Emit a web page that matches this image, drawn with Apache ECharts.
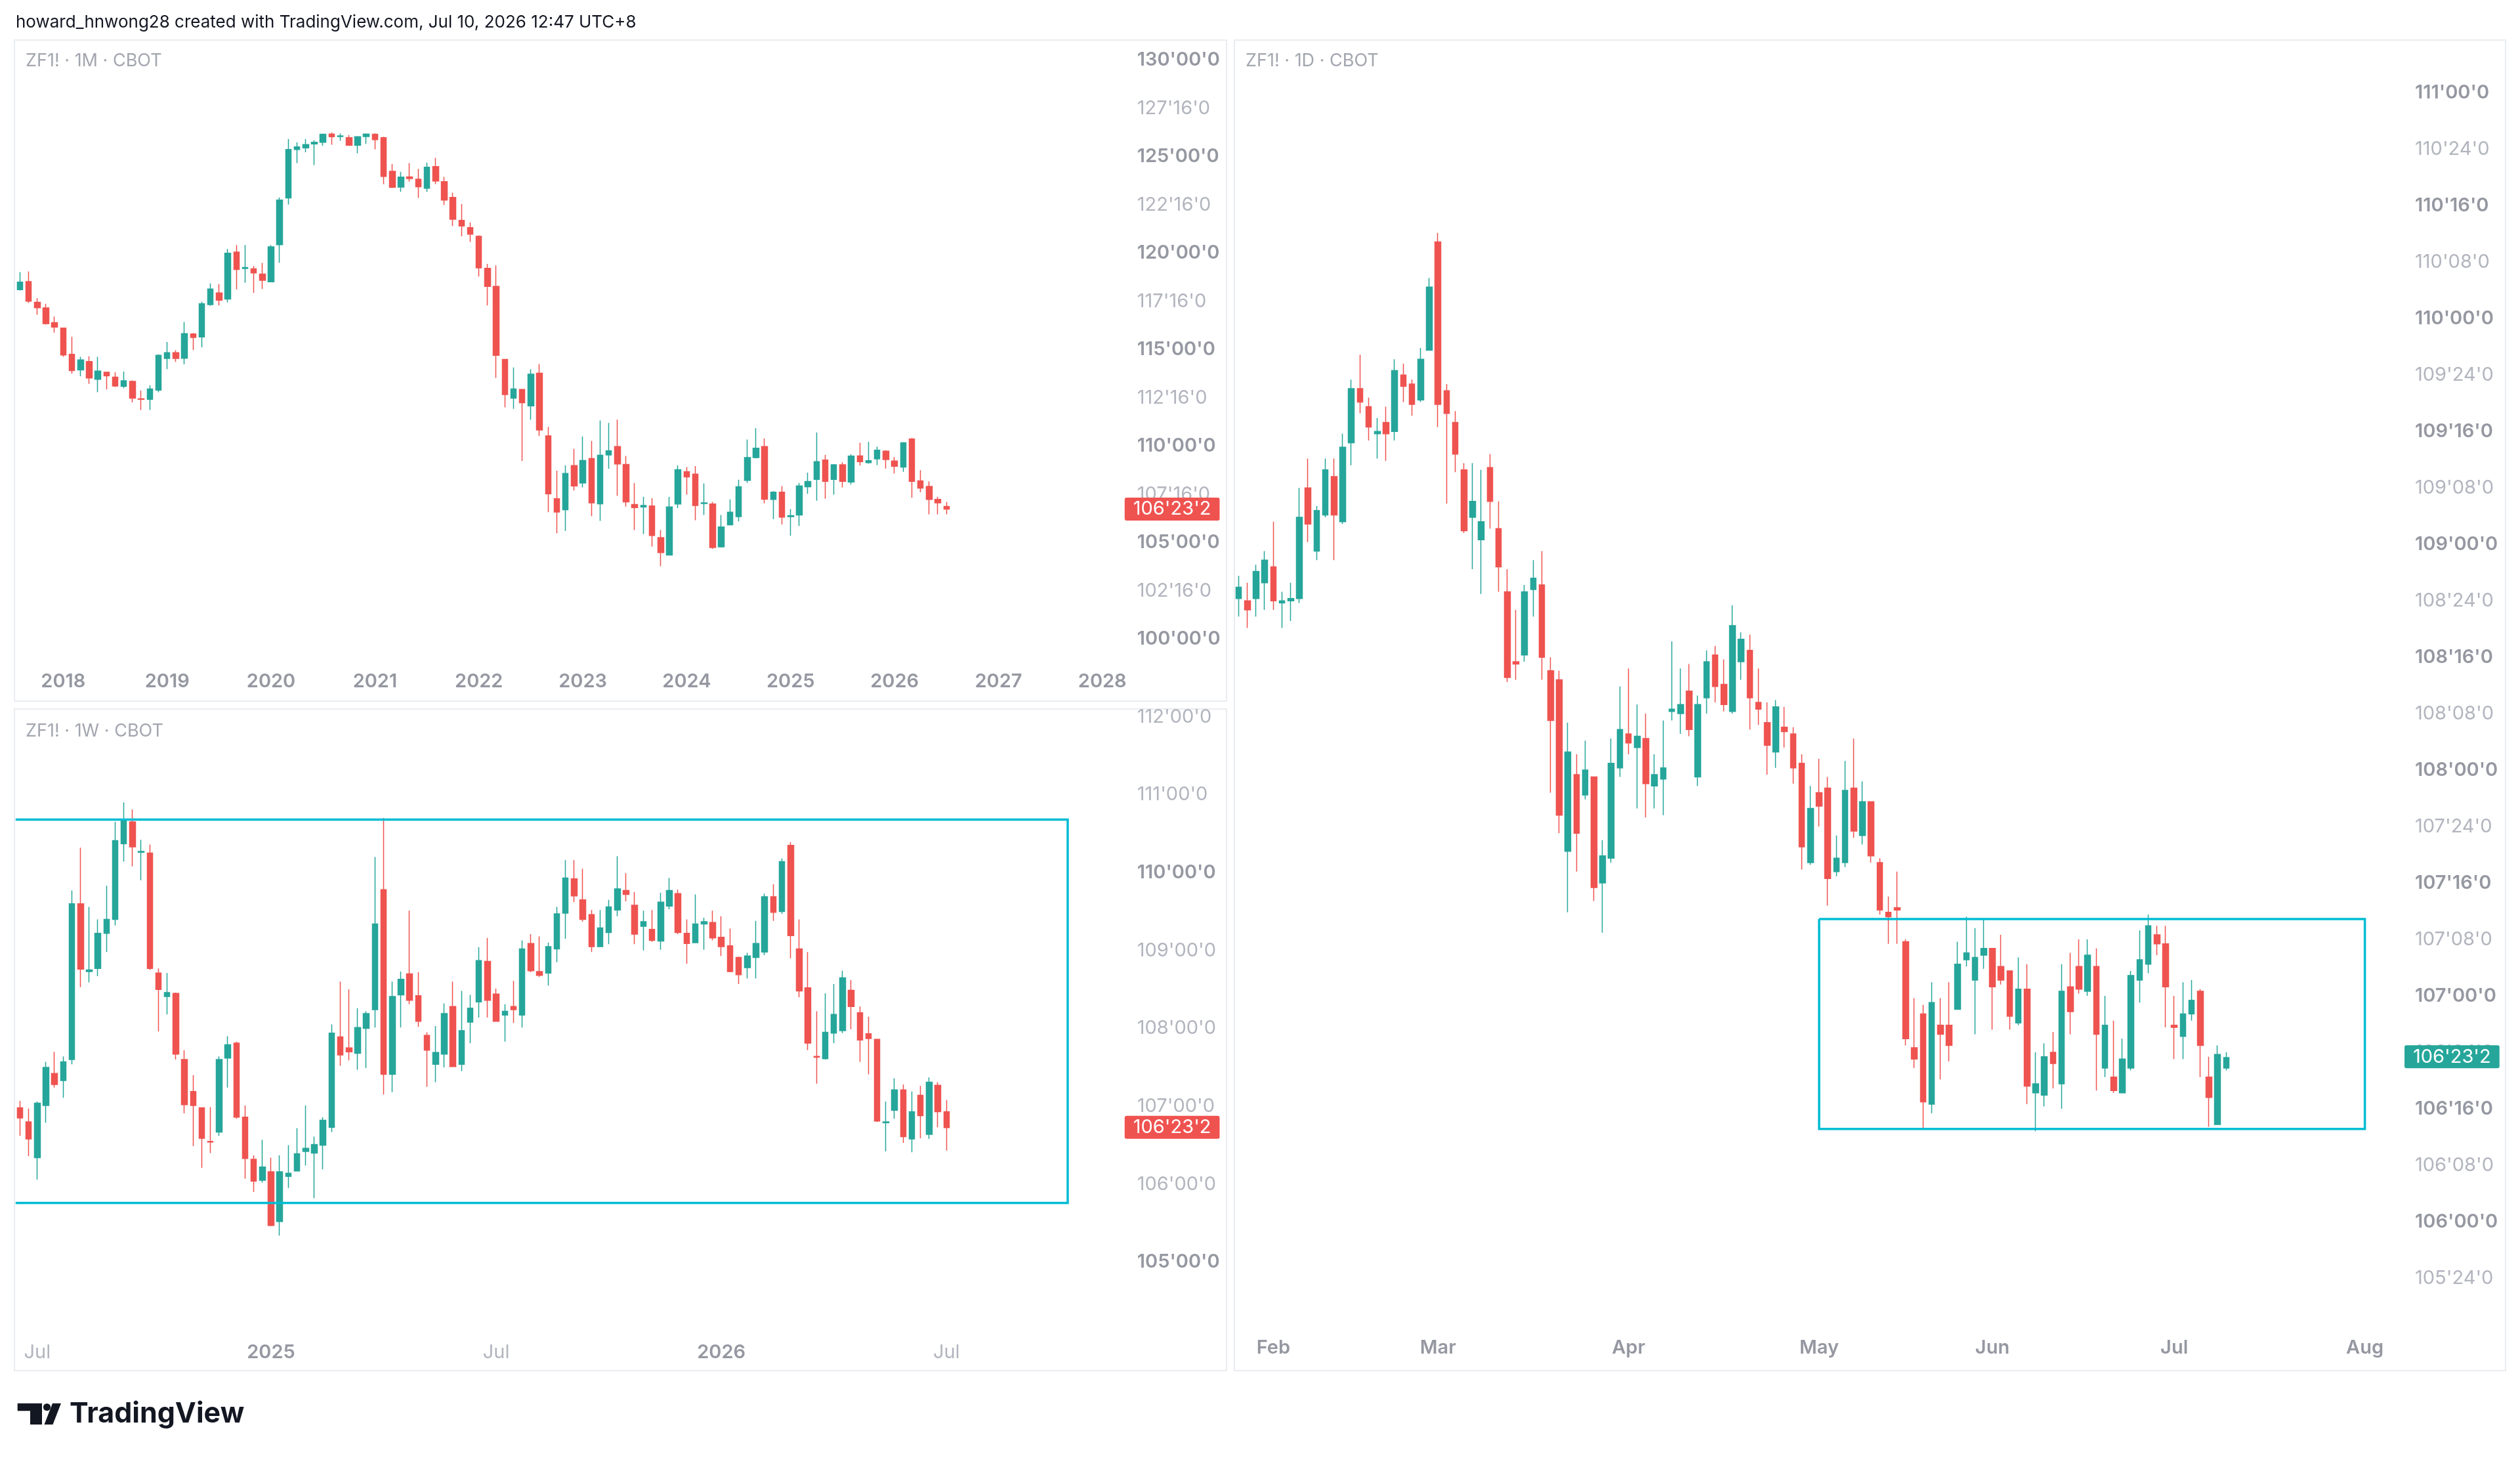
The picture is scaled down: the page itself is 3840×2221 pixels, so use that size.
<!DOCTYPE html>
<html>
<head>
<meta charset="utf-8">
<title>ZF1! CBOT - 1M / 1W / 1D</title>
<script src="https://cdn.jsdelivr.net/npm/echarts@6/dist/echarts.min.js"></script>
<style>
  html, body { margin: 0; padding: 0; background: #ffffff; }
  #chart { width: 3840px; height: 2221px; }
</style>
</head>
<body>
<div id="chart"></div>
<script>
// ---- data ---------------------------------------------------------------
// candles are [open, close, low, high]
var lastPrice = 106.7265625;   // 106'23'2

// monthly bars, Aug 2017 .. Jul 2026
var monthlyFirst = '2017-08';
var monthlySlots = 128;
var monthlyOHLC = [
  [118.10,118.49,118.06,119.01],[118.52,117.51,117.41,119.05],[117.45,117.17,116.80,117.66],[117.16,116.34,116.29,117.37],
  [116.39,116.16,115.87,116.71],[116.11,114.72,114.62,116.14],[114.75,113.91,113.75,115.66],[113.94,114.46,113.61,114.62],
  [114.38,113.53,113.22,114.65],[113.46,113.88,112.79,114.62],[113.82,113.64,112.93,113.82],[113.57,113.11,113.06,113.82],
  [113.09,113.38,113.00,113.86],[113.35,112.48,112.26,113.40],[112.45,112.42,111.87,112.87],[112.42,112.96,111.87,113.14],
  [112.90,114.70,112.79,114.75],[114.54,114.84,113.99,115.39],[114.84,114.54,114.36,114.96],[114.55,115.82,114.23,116.43],
  [115.81,115.63,114.97,115.86],[115.65,117.37,115.12,117.48],[117.33,118.14,117.27,118.43],[117.93,117.56,117.29,118.39],
  [117.62,119.99,117.45,120.21],[120.05,119.15,118.12,120.42],[119.20,119.25,118.46,120.42],[119.18,118.97,117.93,119.33],
  [118.91,118.59,118.14,119.49],[118.51,120.32,118.49,120.42],[120.43,122.75,119.50,122.88],[122.86,125.37,122.52,125.91],
  [125.37,125.50,124.66,125.74],[125.45,125.62,125.22,125.90],[125.66,125.74,124.56,125.85],[125.74,126.16,125.56,126.19],
  [126.17,126.03,125.61,126.25],[126.04,126.07,125.82,126.20],[125.98,125.59,125.56,126.12],[125.59,126.03,125.17,126.06],
  [126.04,126.17,125.66,126.20],[126.16,125.88,125.38,126.20],[125.98,123.97,123.57,126.03],[124.24,123.41,123.37,124.61],
  [123.42,123.94,123.17,124.21],[123.95,123.86,123.70,124.66],[123.83,123.44,122.86,124.36],[123.36,124.45,123.17,124.69],
  [124.48,123.73,123.57,124.93],[123.70,122.75,122.49,123.95],[122.88,121.75,121.40,123.13],[121.69,121.40,120.87,122.54],
  [121.32,120.98,120.58,121.58],[120.87,119.23,118.78,120.92],[119.21,118.27,117.29,119.44],[118.27,114.70,113.53,119.36],
  [114.49,112.67,112.00,114.49],[112.48,112.96,111.93,114.07],[112.93,112.24,109.22,112.93],[112.08,113.72,111.36,113.98],
  [113.77,110.83,110.52,114.25],[110.52,107.52,106.57,110.99],[107.27,106.58,105.48,108.72],[106.70,108.58,105.60,108.99],
  [108.98,107.93,107.69,109.85],[108.08,109.25,107.85,110.49],[109.35,107.05,106.36,110.26],[107.00,109.52,106.12,111.32],
  [109.54,109.75,108.82,111.20],[109.97,109.07,107.42,111.37],[109.04,107.10,106.86,109.49],[106.97,106.81,105.64,108.08],
  [106.84,106.92,105.44,107.37],[106.89,105.36,104.78,107.29],[105.25,104.48,103.77,105.64],[104.35,106.84,104.35,107.36],
  [106.99,108.77,106.78,108.99],[108.67,108.40,107.48,108.91],[108.54,106.92,106.15,108.96],[107.02,107.05,106.42,108.06],
  [106.99,104.74,104.66,107.10],[104.77,105.80,104.74,106.42],[105.91,106.57,105.91,107.23],[106.34,107.89,106.09,108.25],
  [108.22,109.40,108.09,110.34],[109.40,109.89,109.36,110.92],[109.97,107.24,107.03,110.39],[107.23,107.61,106.21,107.66],
  [107.61,106.31,105.93,107.92],[106.34,106.39,105.35,106.73],[106.42,107.93,105.85,108.08],[107.89,108.16,107.52,108.62],
  [108.27,109.19,107.16,110.70],[109.27,108.17,107.27,109.54],[108.27,109.03,107.48,109.06],[109.03,108.17,107.85,109.15],
  [108.13,109.48,108.01,109.57],[109.49,109.19,108.99,110.17],[109.14,109.24,109.09,110.22],[109.33,109.78,109.01,109.96],
  [109.73,109.30,108.83,109.78],[109.22,108.95,108.58,109.43],[108.91,110.17,108.66,110.20],[110.36,108.17,107.32,110.41],
  [108.19,107.82,107.60,108.75],[107.90,107.23,106.46,108.17],[107.23,107.05,106.46,107.37],[106.87,lastPrice,106.46,107.10]
];
var monthlyTicks = [100, 102.5, 105, 107.5, 110, 112.5, 115, 117.5, 120, 122.5, 125, 127.5, 130];

// weekly bars, week of Jun 17 2024 .. week of Jul 6 2026
var weeklyFirst = '2024-06-17';
var weeklySlots = 128;
var weeklyOHLC = [
  [106.98,106.85,106.62,107.07],[106.80,106.58,106.36,106.97],[106.34,107.04,106.06,107.06],[107.01,107.50,106.79,107.57],
  [107.42,107.28,107.24,107.70],[107.33,107.57,107.11,107.64],[107.60,109.60,107.54,109.77],[109.60,108.76,108.53,110.32],
  [108.73,108.75,108.59,109.56],[108.77,109.22,108.67,109.40],[109.22,109.40,108.98,109.83],[109.40,110.41,109.32,110.65],
  [110.37,110.66,110.14,110.90],[110.65,110.33,110.08,110.81],[110.26,110.27,109.90,110.42],[110.25,108.77,108.75,110.36],
  [108.71,108.50,107.96,108.77],[108.41,108.46,108.18,108.71],[108.45,107.67,107.60,108.46],[107.60,107.02,106.91,107.72],
  [107.19,107.01,106.49,107.40],[106.98,106.59,106.21,106.98],[106.55,106.54,106.40,106.99],[106.67,107.60,106.62,107.64],
  [107.62,107.79,107.24,107.90],[107.81,106.86,106.84,107.83],[106.86,106.33,106.07,107.01],[106.32,106.04,105.90,106.37],
  [106.05,106.22,106.02,106.57],[106.16,105.47,105.46,106.34],[105.52,106.16,105.34,106.37],[106.10,106.14,105.95,106.50],
  [106.17,106.39,106.17,106.72],[106.42,106.46,106.24,107.01],[106.40,106.51,105.82,106.61],[106.50,106.82,106.19,106.86],
  [106.73,107.94,106.67,108.05],[107.89,107.66,107.52,108.60],[107.75,107.70,107.59,108.50],[107.68,108.01,107.47,108.26],
  [108.00,108.19,107.49,108.22],[108.24,109.34,108.01,110.20],[109.78,107.41,107.15,110.70],[107.41,108.41,107.18,108.60],
  [108.43,108.63,108.01,108.73],[108.70,108.36,108.31,109.51],[108.42,108.09,108.02,108.72],[107.91,107.72,107.25,107.95],
  [107.54,107.69,107.31,108.03],[107.67,108.19,107.50,108.32],[108.28,107.51,107.51,108.60],[107.54,107.97,107.45,108.48],
  [108.08,108.26,107.81,108.43],[108.34,108.87,108.14,109.04],[108.86,108.36,108.14,109.16],[108.44,108.09,108.09,108.51],
  [108.17,108.22,107.83,108.31],[108.28,108.24,108.07,108.61],[108.17,109.02,108.01,109.13],[109.09,108.74,108.72,109.21],
  [108.73,108.68,108.66,109.18],[108.71,109.05,108.55,109.10],[109.02,109.47,108.85,109.56],[109.48,109.93,109.15,110.16],
  [109.92,109.70,109.62,110.16],[109.65,109.40,109.37,110.05],[109.46,109.05,108.98,109.52],[109.05,109.29,109.05,109.52],
  [109.23,109.56,109.08,109.65],[109.52,109.79,109.44,110.21],[109.77,109.72,109.63,109.99],[109.58,109.21,109.08,109.75],
  [109.31,109.37,109.00,109.51],[109.27,109.13,109.11,109.52],[109.12,109.62,109.01,109.74],[109.57,109.77,109.53,109.93],
  [109.73,109.23,109.21,109.78],[109.22,109.09,108.83,109.40],[109.10,109.34,109.10,109.72],[109.34,109.37,109.01,109.42],
  [109.36,109.16,109.13,109.51],[109.17,109.05,108.93,109.44],[109.06,108.73,108.72,109.28],[108.91,108.69,108.57,108.92],
  [108.78,108.93,108.64,108.97],[108.91,109.09,108.64,109.38],[108.98,109.69,108.94,109.73],[109.69,109.49,109.38,109.85],
  [109.50,110.14,109.47,110.18],[110.35,109.19,108.90,110.39],[109.02,108.48,108.40,109.40],[108.52,107.81,107.72,108.98],
  [107.64,107.63,107.29,108.22],[107.61,107.95,107.60,108.45],[107.94,108.18,107.81,108.57],[107.97,108.65,107.94,108.74],
  [108.49,108.28,107.99,108.62],[108.20,107.85,107.57,108.28],[107.93,107.87,107.41,108.15],[107.86,106.81,106.80,107.86],
  [106.79,106.80,106.42,107.06],[106.95,107.21,106.84,107.36],[107.21,106.61,106.53,107.28],[106.58,106.93,106.41,107.19],
  [107.14,106.88,106.59,107.26],[106.64,107.31,106.58,107.37],[107.27,106.93,106.73,107.31],[106.93,lastPrice,106.43,107.08]
];
var weeklyTicks = [105, 106, 107, 108, 109, 110, 111, 112];
var weeklyBox = ['2024-06-17', '2026-10-12', 110.68, 105.76];   // left side runs off the chart

// daily bars, Jan 27 2026 .. Jul 10 2026
var dailyFirst = '2026-01-27';
var dailySlots = 135;
var dailyClosed = ['2026-02-16', '2026-05-25', '2026-06-19', '2026-07-03'];
var dailyOHLC = [
  [108.76,108.81,108.68,108.86],[108.75,108.71,108.63,108.83],[108.76,108.88,108.68,108.91],[108.83,108.93,108.71,108.97],
  [108.90,108.75,108.71,109.10],[108.74,108.75,108.63,108.79],[108.75,108.76,108.66,108.83],[108.76,109.12,108.74,109.25],
  [109.25,109.09,109.01,109.38],[108.97,109.15,108.93,109.17],[109.13,109.33,109.12,109.38],[109.30,109.13,108.93,109.38],
  [109.10,109.43,109.09,109.49],[109.45,109.69,109.35,109.73],[109.69,109.63,109.58,109.84],[109.61,109.52,109.46,109.65],
  [109.49,109.50,109.38,109.56],[109.54,109.49,109.37,109.61],[109.50,109.77,109.46,109.82],[109.75,109.70,109.63,109.80],
  [109.71,109.62,109.57,109.73],[109.64,109.82,109.63,109.87],[109.86,110.14,109.86,110.18],[110.34,109.62,109.52,110.38],
  [109.68,109.58,109.18,109.71],[109.54,109.40,109.32,109.59],[109.33,109.06,109.05,109.36],[109.12,109.19,108.89,109.36],
  [109.02,109.10,108.78,109.33],[109.34,109.19,109.07,109.40],[109.07,108.90,108.79,109.19],[108.79,108.41,108.39,108.89],
  [108.48,108.47,108.40,108.71],[108.51,108.79,108.48,108.82],[108.80,108.85,108.68,108.93],[108.82,108.50,108.40,108.97],
  [108.44,108.22,107.90,108.50],[108.40,107.80,107.72,108.44],[107.64,108.08,107.37,108.21],[107.98,107.72,107.55,108.07],
  [107.89,108.00,107.87,108.13],[107.97,107.48,107.42,107.97],[107.50,107.62,107.28,107.69],[107.61,108.03,107.59,108.14],
  [108.01,108.18,107.97,108.37],[108.16,108.12,108.07,108.45],[108.10,108.15,107.83,108.29],[108.14,107.94,107.79,108.25],
  [107.93,107.98,107.83,108.07],[107.96,108.01,107.80,108.22],[108.26,108.27,108.22,108.57],[108.25,108.29,108.16,108.45],
  [108.35,108.18,108.15,108.47],[107.97,108.29,107.93,108.33],[108.32,108.48,108.25,108.53],[108.51,108.37,108.30,108.55],
  [108.38,108.29,108.26,108.49],[108.26,108.64,108.25,108.73],[108.48,108.58,108.40,108.61],[108.53,108.32,108.18,108.60],
  [108.30,108.27,108.20,108.45],[108.21,108.11,107.98,108.30],[108.08,108.28,108.01,108.31],[108.19,108.17,108.10,108.28],
  [108.16,108.01,107.94,108.19],[108.03,107.66,107.56,108.07],[107.59,107.83,107.58,107.93],[107.90,107.84,107.75,108.05],
  [107.92,107.52,107.40,107.97],[107.55,107.61,107.53,107.71],[107.59,107.91,107.57,108.04],[107.92,107.73,107.70,108.14],
  [107.71,107.86,107.67,107.95],[107.86,107.62,107.59,107.86],[107.59,107.38,107.36,107.61],[107.37,107.35,107.23,107.44],
  [107.39,107.38,107.23,107.55],[107.24,106.81,106.78,107.25],[106.77,106.72,106.68,106.99],[106.92,106.53,106.41,106.96],
  [106.52,106.97,106.48,107.06],[106.87,106.83,106.63,106.99],[106.87,106.78,106.71,107.06],[106.94,107.14,106.94,107.24],
  [107.16,107.19,107.13,107.35],[107.07,107.17,106.83,107.30],[107.18,107.21,107.12,107.34],[107.21,107.04,106.85,107.21],
  [107.13,107.07,107.05,107.27],[107.11,106.91,106.85,107.11],[106.88,107.03,106.87,107.17],[107.03,106.60,106.52,107.14],
  [106.57,106.61,106.40,106.75],[106.56,106.73,106.51,106.79],[106.75,106.70,106.59,106.84],[106.61,107.02,106.50,107.14],
  [107.04,106.93,106.83,107.19],[107.13,107.03,107.01,107.25],[107.02,107.18,107.00,107.25],[107.13,106.83,106.58,107.21],
  [106.68,106.87,106.64,107.00],[106.64,106.58,106.57,106.89],[106.57,106.72,106.57,106.81],[106.68,107.09,106.67,107.11],
  [107.07,107.16,106.97,107.29],[107.14,107.31,107.10,107.36],[107.27,107.23,107.18,107.31],[107.23,107.04,106.86,107.31],
  [106.87,106.86,106.72,107.00],[106.82,106.92,106.72,107.06],[106.92,106.98,106.89,107.07],[107.02,106.78,106.64,107.03],
  [106.64,106.55,106.42,106.73],[106.43,106.74,106.43,106.78],[106.68,lastPrice,106.67,106.75]
];
var dailyTicks = [105.75, 106, 106.25, 106.5, 106.75, 107, 107.25, 107.5, 107.75, 108, 108.25, 108.5,
                  108.75, 109, 109.25, 109.5, 109.75, 110, 110.25, 110.5, 110.75, 111];
var dailyBox = ['2026-05-01', '2026-08-03', 107.34, 106.41];

// ---- calendar helpers ---------------------------------------------------
var DAY = 86400000;
function isoDay(t) { return new Date(t).toISOString().slice(0, 10); }

function monthSlots(first, count) {
  var y = +first.slice(0, 4), m = +first.slice(5, 7) - 1, out = [];
  for (var i = 0; i < count; i++) {
    var yy = y + Math.floor((m + i) / 12), mm = (m + i) % 12 + 1;
    out.push(yy + '-' + (mm < 10 ? '0' : '') + mm);
  }
  return out;
}
function weekSlots(first, count) {
  var t = Date.parse(first + 'T00:00:00Z'), out = [];
  for (var i = 0; i < count; i++) out.push(isoDay(t + i * 7 * DAY));
  return out;
}
function tradingSlots(first, count, closed) {
  var t = Date.parse(first + 'T00:00:00Z'), out = [];
  while (out.length < count) {
    var wd = new Date(t).getUTCDay(), s = isoDay(t);
    if (wd !== 0 && wd !== 6 && closed.indexOf(s) < 0) out.push(s);
    t += DAY;
  }
  return out;
}

var monthlyCats = monthSlots(monthlyFirst, monthlySlots);
var weeklyCats = weekSlots(weeklyFirst, weeklySlots);
var dailyCats = tradingSlots(dailyFirst, dailySlots, dailyClosed);

// TradingView 32nds price format, e.g. 106'23'2
function tv(p) {
  var whole = Math.floor(p + 1e-9);
  var t = (p - whole) * 32;
  var n = Math.floor(t + 1e-6);
  var q = Math.round((t - n) * 4);
  if (q === 4) { n += 1; q = 0; }
  if (n === 32) { whole += 1; n = 0; }
  return whole + "'" + (n < 10 ? '0' : '') + n + "'" + ['0', '2', '5', '7'][q];
}

// ---- styles -------------------------------------------------------------
var FONT = "Inter, 'Noto Sans', sans-serif";
var UP = '#26a69a', DOWN = '#ef5350', BOX = '#00bcd4';
var AXIS_FS = 29;
var rich = {
  b: { fontFamily: FONT, fontSize: AXIS_FS, fontWeight: 600, color: '#9598a1', lineHeight: 30 },
  r: { fontFamily: FONT, fontSize: AXIS_FS, fontWeight: 400, color: '#b2b5be', lineHeight: 30 }
};
var MONTHS = ['Jan', 'Feb', 'Mar', 'Apr', 'May', 'Jun', 'Jul', 'Aug', 'Sep', 'Oct', 'Nov', 'Dec'];

function priceAxis(grid, min, max, ticks, boldStep, margin) {
  return {
    gridIndex: grid, type: 'value', position: 'right', min: min, max: max, scale: true,
    axisLine: { show: false }, axisTick: { show: false }, splitLine: { show: false },
    axisLabel: {
      customValues: ticks, align: 'left', margin: margin, rich: rich,
      formatter: function (v) {
        var major = Math.abs(v / boldStep - Math.round(v / boldStep)) < 1e-6;
        return (major ? '{b|' : '{r|') + tv(v) + '}';
      }
    }
  };
}
function timeAxis(grid, cats, margin, fmt) {
  return {
    gridIndex: grid, type: 'category', data: cats, boundaryGap: true,
    axisLine: { show: false }, axisTick: { show: false }, splitLine: { show: false },
    axisLabel: { interval: 0, margin: margin, rich: rich, formatter: fmt }
  };
}
function candles(x, data, tagColor) {
  return {
    type: 'candlestick', xAxisIndex: x, yAxisIndex: x, data: data,
    barWidth: 9, animation: false,
    itemStyle: { color: UP, color0: DOWN, borderColor: UP, borderColor0: DOWN, borderWidth: 1.5 },
    markLine: {
      silent: true, animation: false, symbol: ['none', 'none'], z: 10,
      lineStyle: { width: 0, color: 'rgba(0,0,0,0)', type: 'solid' },
      emphasis: { disabled: true },
      data: [{ yAxis: lastPrice }],
      label: {
        show: true, position: 'end', distance: 1, formatter: tv(lastPrice),
        color: '#ffffff', backgroundColor: tagColor, borderRadius: 3,
        padding: [3, 13, 2, 13], fontFamily: FONT, fontSize: AXIS_FS, lineHeight: 30
      }
    }
  };
}
function boxSeries(x, cats, box, openLeft) {
  return {
    type: 'custom', xAxisIndex: x, yAxisIndex: x, z: 4, silent: true, animation: false,
    encode: { x: [0, 1], y: [2, 3] },
    data: [[cats.indexOf(box[0]), cats.indexOf(box[1]), box[2], box[3]]],
    renderItem: function (params, api) {
      var a = api.coord([api.value(0), api.value(2)]);
      var b = api.coord([api.value(1), api.value(3)]);
      var left = openLeft ? params.coordSys.x : a[0];
      var pts = openLeft
        ? [[left, a[1]], [b[0], a[1]], [b[0], b[1]], [left, b[1]]]
        : [[left, a[1]], [b[0], a[1]], [b[0], b[1]], [left, b[1]], [left, a[1]]];
      return { type: 'polyline', shape: { points: pts },
               style: { fill: 'none', stroke: BOX, lineWidth: 3.5 } };
    }
  };
}

// ---- layout -------------------------------------------------------------
var STEP_L = 13.195, STEP_R = 13.2;
var gridM = { left: 23.8, top: 61, width: monthlySlots * STEP_L, height: 949 };
var gridW = { left: 23.8, top: 1081, width: weeklySlots * STEP_L, height: 949 };
var gridD = { left: 1881, top: 61, width: dailySlots * STEP_R, height: 1969 };
[gridM, gridW, gridD].forEach(function (g) { g.outerBoundsMode = 'none'; g.containLabel = false; });

var chart = echarts.init(document.getElementById('chart'), null, { renderer: 'canvas' });

chart.setOption({
  backgroundColor: '#ffffff',
  animation: false,
  grid: [gridM, gridW, gridD],
  xAxis: [
    timeAxis(0, monthlyCats, 13, function (v) {
      return v.slice(5, 7) === '01' ? '{b|' + v.slice(0, 4) + '}' : '';
    }),
    timeAxis(1, weeklyCats, 15, function (v, i) {
      if (i === 0 || weeklyCats[i - 1].slice(5, 7) === v.slice(5, 7)) return '';
      var m = v.slice(5, 7);
      if (m === '01') return '{b|' + v.slice(0, 4) + '}';
      if (m === '07') return '{r|Jul}';
      return '';
    }),
    timeAxis(2, dailyCats, 8, function (v, i) {
      if (i === 0 || dailyCats[i - 1].slice(5, 7) === v.slice(5, 7)) return '';
      return '{b|' + MONTHS[+v.slice(5, 7) - 1] + '}';
    })
  ],
  yAxis: [
    priceAxis(0, 98.751, 131.041, monthlyTicks, 5, 20),
    priceAxis(1, 104.095, 112.091, weeklyTicks, 5, 20),
    priceAxis(2, 105.508, 111.234, dailyTicks, 0.5, 17)
  ],
  series: [
    candles(0, monthlyOHLC, DOWN),
    candles(1, weeklyOHLC, DOWN),
    candles(2, dailyOHLC, UP),
    boxSeries(1, weeklyCats, weeklyBox, true),
    boxSeries(2, dailyCats, dailyBox, false)
  ],
  graphic: [
    // panel frames
    { type: 'rect', z: -1, silent: true, shape: { x: 22, y: 61, width: 1847, height: 1007 },
      style: { fill: 'none', stroke: '#e9ecf1', lineWidth: 2 } },
    { type: 'rect', z: -1, silent: true, shape: { x: 22, y: 1080, width: 1847, height: 1008 },
      style: { fill: 'none', stroke: '#e9ecf1', lineWidth: 2 } },
    { type: 'rect', z: -1, silent: true, shape: { x: 1881, y: 61, width: 1937, height: 2027 },
      style: { fill: 'none', stroke: '#e9ecf1', lineWidth: 2 } },
    // header and pane titles
    { type: 'text', x: 24, y: 34, silent: true,
      style: { text: 'howard_hnwong28 created with TradingView.com, Jul 10, 2026 12:47 UTC+8',
               font: '400 26px ' + FONT, fill: '#131722', verticalAlign: 'middle' } },
    { type: 'text', x: 39, y: 93, silent: true,
      style: { text: 'ZF1! \u00b7 1M \u00b7 CBOT', font: '400 27px ' + FONT, fill: '#a3a6af', verticalAlign: 'middle' } },
    { type: 'text', x: 39, y: 1114, silent: true,
      style: { text: 'ZF1! \u00b7 1W \u00b7 CBOT', font: '400 27px ' + FONT, fill: '#a3a6af', verticalAlign: 'middle' } },
    { type: 'text', x: 1898, y: 93, silent: true,
      style: { text: 'ZF1! \u00b7 1D \u00b7 CBOT', font: '400 27px ' + FONT, fill: '#a3a6af', verticalAlign: 'middle' } },
    // TradingView mark
    { type: 'group', silent: true, children: [
      { type: 'polygon', shape: { points: [[26.7, 2137.7], [64, 2137.7], [64, 2170], [46, 2170], [46, 2149.3], [26.7, 2149.3]] },
        style: { fill: '#131722' } },
      { type: 'circle', shape: { cx: 71.5, cy: 2143.5, r: 5.6 }, style: { fill: '#131722' } },
      { type: 'polygon', shape: { points: [[80, 2137.7], [93, 2137.7], [80.5, 2170], [67.5, 2170]] },
        style: { fill: '#131722' } },
      { type: 'text', x: 106, y: 2154,
        style: { text: 'TradingView', font: '700 43px ' + FONT, fill: '#131722', verticalAlign: 'middle' } }
    ] }
  ]
});
</script>
</body>
</html>
